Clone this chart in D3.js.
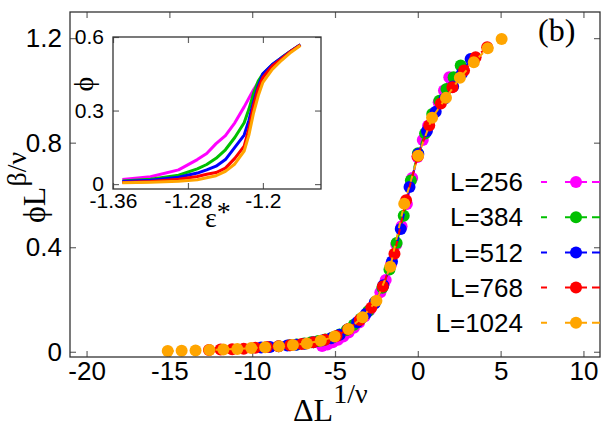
<!DOCTYPE html>
<html>
<head>
<meta charset="utf-8">
<script src="https://cdn.jsdelivr.net/npm/d3@7"></script>
<style>
body{margin:0;background:#fff}
svg{display:block}
</style>
</head>
<body>
<svg id="chart" width="610" height="427"></svg>
<script>
// series names (legend)
var seriesNames = ['L=256', 'L=384', 'L=512', 'L=768', 'L=1024'];

// main plot: scaled data, x = ΔL^(1/ν), y = φL^(β/ν)
var x256 = [-5.78,-5.46,-5.14,-4.82,-4.50,-4.18,-3.86,-3.54,-3.22,-2.90,-2.58,-2.26,-1.94,-1.62,-1.30,-0.98,-0.66,-0.34,-0.02,0.30,0.62,0.94,1.26,1.58,1.90];
var y256 = [0.022,0.028,0.036,0.046,0.058,0.074,0.092,0.112,0.135,0.160,0.190,0.228,0.275,0.335,0.410,0.480,0.565,0.665,0.745,0.810,0.865,0.910,0.955,1.000,1.050];

var x384 = [-7.73,-7.30,-6.87,-6.44,-6.01,-5.58,-5.15,-4.72,-4.29,-3.86,-3.43,-3.00,-2.57,-2.14,-1.71,-1.28,-0.85,-0.42,0.01,0.44,0.87,1.30,1.73,2.16,2.59];
var y384 = [0.025,0.028,0.032,0.036,0.041,0.047,0.055,0.066,0.083,0.103,0.127,0.155,0.190,0.245,0.315,0.416,0.520,0.655,0.760,0.835,0.910,0.960,1.005,1.050,1.095];

var x512 = [-9.46,-8.93,-8.40,-7.88,-7.35,-6.82,-6.30,-5.77,-5.24,-4.72,-4.19,-3.66,-3.14,-2.61,-2.08,-1.56,-1.03,-0.50,0.03,0.55,1.08,1.61,2.13,2.66,3.19];
var y512 = [0.016,0.018,0.021,0.024,0.027,0.031,0.036,0.043,0.052,0.065,0.087,0.113,0.145,0.185,0.255,0.345,0.470,0.630,0.757,0.845,0.918,0.968,1.015,1.065,1.120];

var x768 = [-12.61,-11.91,-11.21,-10.51,-9.81,-9.11,-8.41,-7.71,-7.01,-6.31,-5.61,-4.91,-4.21,-3.51,-2.81,-2.11,-1.41,-0.71,-0.01,0.69,1.39,2.09,2.79,3.49,4.19];
var y768 = [0.007,0.009,0.010,0.012,0.015,0.018,0.021,0.025,0.030,0.036,0.046,0.060,0.086,0.122,0.168,0.250,0.375,0.580,0.748,0.866,0.950,1.012,1.076,1.127,1.165];

var x1024 = [-15.10,-14.26,-13.42,-12.58,-11.74,-10.90,-10.06,-9.22,-8.38,-7.54,-6.70,-5.86,-5.02,-4.18,-3.34,-2.50,-1.66,-0.82,0.02,0.86,1.70,2.54,3.38,4.22,5.06];
var y1024 = [0.003,0.004,0.005,0.007,0.009,0.011,0.014,0.017,0.021,0.026,0.032,0.042,0.058,0.087,0.132,0.195,0.325,0.566,0.750,0.895,0.972,1.048,1.108,1.161,1.197];

// inset: raw order parameter vs ε*
var epsVals = [-1.35,-1.32,-1.29,-1.27,-1.26,-1.25,-1.24,-1.23,-1.22,-1.215,-1.21,-1.205,-1.20,-1.19,-1.18,-1.17,-1.16];
var phi256  = [0.019,0.030,0.058,0.100,0.125,0.165,0.198,0.250,0.315,0.350,0.385,0.415,0.440,0.483,0.515,0.543,0.568];
var phi384  = [0.013,0.020,0.036,0.062,0.080,0.105,0.140,0.190,0.250,0.305,0.370,0.420,0.450,0.487,0.516,0.543,0.568];
var phi512  = [0.011,0.016,0.028,0.045,0.058,0.073,0.100,0.150,0.200,0.260,0.335,0.400,0.450,0.488,0.516,0.543,0.568];
var phi768  = [0.007,0.011,0.020,0.031,0.040,0.047,0.065,0.105,0.155,0.225,0.320,0.390,0.435,0.482,0.512,0.542,0.567];
var phi1024 = [0.005,0.008,0.012,0.018,0.026,0.034,0.052,0.082,0.135,0.200,0.290,0.360,0.415,0.468,0.505,0.538,0.565];

// tick labels
var xTicks = [-20, -15, -10, -5, 0, 5, 10];
var yTicks = [0, 0.4, 0.8, 1.2];
var insetXTicks = [-1.36, -1.28, -1.2];
var insetYTicks = [0, 0.3, 0.6];

var colors = ['#ff00ff', '#00c000', '#0000ff', '#ff0000', '#ffa500'];
var sansFont = '"Liberation Sans", Arial, sans-serif';
var serifFont = '"Liberation Serif", "Times New Roman", serif';

var mainX = [x256, x384, x512, x768, x1024];
var mainY = [y256, y384, y512, y768, y1024];
var insetPhi = [phi256, phi384, phi512, phi768, phi1024];

var svg = d3.select('#chart');

//Main scales
var pLeft = 70, pRight = 600, pTop = 12, pBottom = 357;
var xScale = d3.scaleLinear().domain([-21, 11]).range([pLeft, pRight]);
var yScale = d3.scaleLinear().domain([-0.02, 1.3]).range([pBottom, pTop]);

function styleAxis(g, size){
	g.select('.domain').remove();
	g.selectAll('line').attr('stroke', '#666').attr('stroke-width', 1.2);
	g.selectAll('text').attr('font-family', sansFont).attr('font-size', size).attr('fill', '#000');
	g.attr('font-size', null).attr('font-family', null);
}

var fmt = function(d){ return String(d); };

//Main axes (ticks inward, mirrored)
svg.append('g').attr('transform', 'translate(0,' + pBottom + ')')
	.call(d3.axisBottom(xScale).tickValues(xTicks).tickSize(-6).tickSizeOuter(0).tickPadding(5).tickFormat(fmt))
	.call(styleAxis, 26);
svg.append('g').attr('transform', 'translate(0,' + pTop + ')')
	.call(d3.axisTop(xScale).tickValues(xTicks).tickSize(-6).tickSizeOuter(0).tickFormat(''))
	.call(styleAxis, 26);
svg.append('g').attr('transform', 'translate(' + pLeft + ',0)')
	.call(d3.axisLeft(yScale).tickValues(yTicks).tickSize(-6).tickSizeOuter(0).tickPadding(8).tickFormat(fmt))
	.call(styleAxis, 26);
svg.append('g').attr('transform', 'translate(' + pRight + ',0)')
	.call(d3.axisRight(yScale).tickValues(yTicks).tickSize(-6).tickSizeOuter(0).tickFormat(''))
	.call(styleAxis, 26);

//Data series (magenta first, orange on top)
var line = d3.line().x(function(d){ return xScale(d[0]); }).y(function(d){ return yScale(d[1]); });

mainX.forEach(function(xs, i){
	var pts = xs.map(function(v, j){ return [v, mainY[i][j]]; });
	var g = svg.append('g');
	g.append('path')
		.attr('d', line(pts))
		.attr('fill', 'none')
		.attr('stroke', colors[i])
		.attr('stroke-width', 2)
		.attr('stroke-dasharray', '6,6');
	g.selectAll('circle').data(pts).enter().append('circle')
		.attr('cx', function(d){ return xScale(d[0]); })
		.attr('cy', function(d){ return yScale(d[1]); })
		.attr('r', 6)
		.attr('fill', colors[i]);
});

//Frame
svg.append('rect')
	.attr('x', pLeft).attr('y', pTop)
	.attr('width', pRight - pLeft).attr('height', pBottom - pTop)
	.attr('fill', 'none').attr('stroke', '#333').attr('stroke-width', 1.3);

//Legend
var legend = svg.append('g');
seriesNames.forEach(function(name, i){
	var ly = 182 + i * 35.2;
	legend.append('text')
		.attr('x', 523).attr('y', ly)
		.attr('dy', '0.35em')
		.attr('text-anchor', 'end')
		.attr('font-family', sansFont)
		.attr('font-size', 26)
		.text(name);
	legend.append('line')
		.attr('x1', 541).attr('x2', 600)
		.attr('y1', ly).attr('y2', ly)
		.attr('stroke', colors[i]).attr('stroke-width', 2)
		.attr('stroke-dasharray', '6,18,22,5,10');
	legend.append('circle')
		.attr('cx', 576).attr('cy', ly).attr('r', 6)
		.attr('fill', colors[i]);
});

//Panel label
svg.append('text')
	.attr('x', 538).attr('y', 41)
	.attr('font-family', serifFont)
	.attr('font-size', 32)
	.text('(b)');

//Axis labels
var xLab = svg.append('text')
	.attr('x', 293).attr('y', 421)
	.attr('font-family', serifFont)
	.attr('font-size', 32);
xLab.append('tspan').text('\u0394L');
xLab.append('tspan').attr('dy', -18).attr('font-size', 28).text('1/\u03bd');

var yLab = svg.append('text')
	.attr('transform', 'translate(45,223) rotate(-90)')
	.attr('font-family', serifFont)
	.attr('font-size', 32);
yLab.append('tspan').text('\u03d5L');
yLab.append('tspan').attr('dy', -19).attr('font-size', 28).text('\u03b2/\u03bd');

//Inset
var iLeft = 113, iRight = 321, iTop = 37, iBottom = 189;
var xInset = d3.scaleLinear().domain([-1.36, -1.138]).range([iLeft, iRight]);
var yInset = d3.scaleLinear().domain([-0.02, 0.6]).range([iBottom, iTop]);

svg.append('rect')
	.attr('x', iLeft).attr('y', iTop)
	.attr('width', iRight - iLeft).attr('height', iBottom - iTop)
	.attr('fill', '#fff');

svg.append('g').attr('transform', 'translate(0,' + iBottom + ')')
	.call(d3.axisBottom(xInset).tickValues(insetXTicks).tickSize(-6).tickSizeOuter(0).tickPadding(4).tickFormat(fmt))
	.call(styleAxis, 21);
svg.append('g').attr('transform', 'translate(0,' + iTop + ')')
	.call(d3.axisTop(xInset).tickValues(insetXTicks).tickSize(-6).tickSizeOuter(0).tickFormat(''))
	.call(styleAxis, 21);
svg.append('g').attr('transform', 'translate(' + iLeft + ',0)')
	.call(d3.axisLeft(yInset).tickValues(insetYTicks).tickSize(-6).tickSizeOuter(0).tickPadding(9).tickFormat(fmt))
	.call(styleAxis, 21);
svg.append('g').attr('transform', 'translate(' + iRight + ',0)')
	.call(d3.axisRight(yInset).tickValues(insetYTicks).tickSize(-6).tickSizeOuter(0).tickFormat(''))
	.call(styleAxis, 21);

var insetLine = d3.line()
	.x(function(d){ return xInset(d[0]); })
	.y(function(d){ return yInset(d[1]); });

insetPhi.forEach(function(ys, i){
	svg.append('path')
		.attr('d', insetLine(epsVals.map(function(e, j){ return [e, ys[j]]; })))
		.attr('fill', 'none')
		.attr('stroke', colors[i])
		.attr('stroke-width', 3)
		.attr('stroke-linejoin', 'round');
});

svg.append('rect')
	.attr('x', iLeft).attr('y', iTop)
	.attr('width', iRight - iLeft).attr('height', iBottom - iTop)
	.attr('fill', 'none').attr('stroke', '#333').attr('stroke-width', 1.3);

svg.append('text')
	.attr('transform', 'translate(93,84) rotate(-90)')
	.attr('text-anchor', 'middle')
	.attr('font-family', serifFont)
	.attr('font-size', 28)
	.text('\u03d5');

var eLab = svg.append('text')
	.attr('x', 205).attr('y', 227)
	.attr('font-family', serifFont)
	.attr('font-size', 28);
eLab.append('tspan').text('\u03b5');
eLab.append('tspan').attr('dy', -6).text('*');
</script>
</body>
</html>
